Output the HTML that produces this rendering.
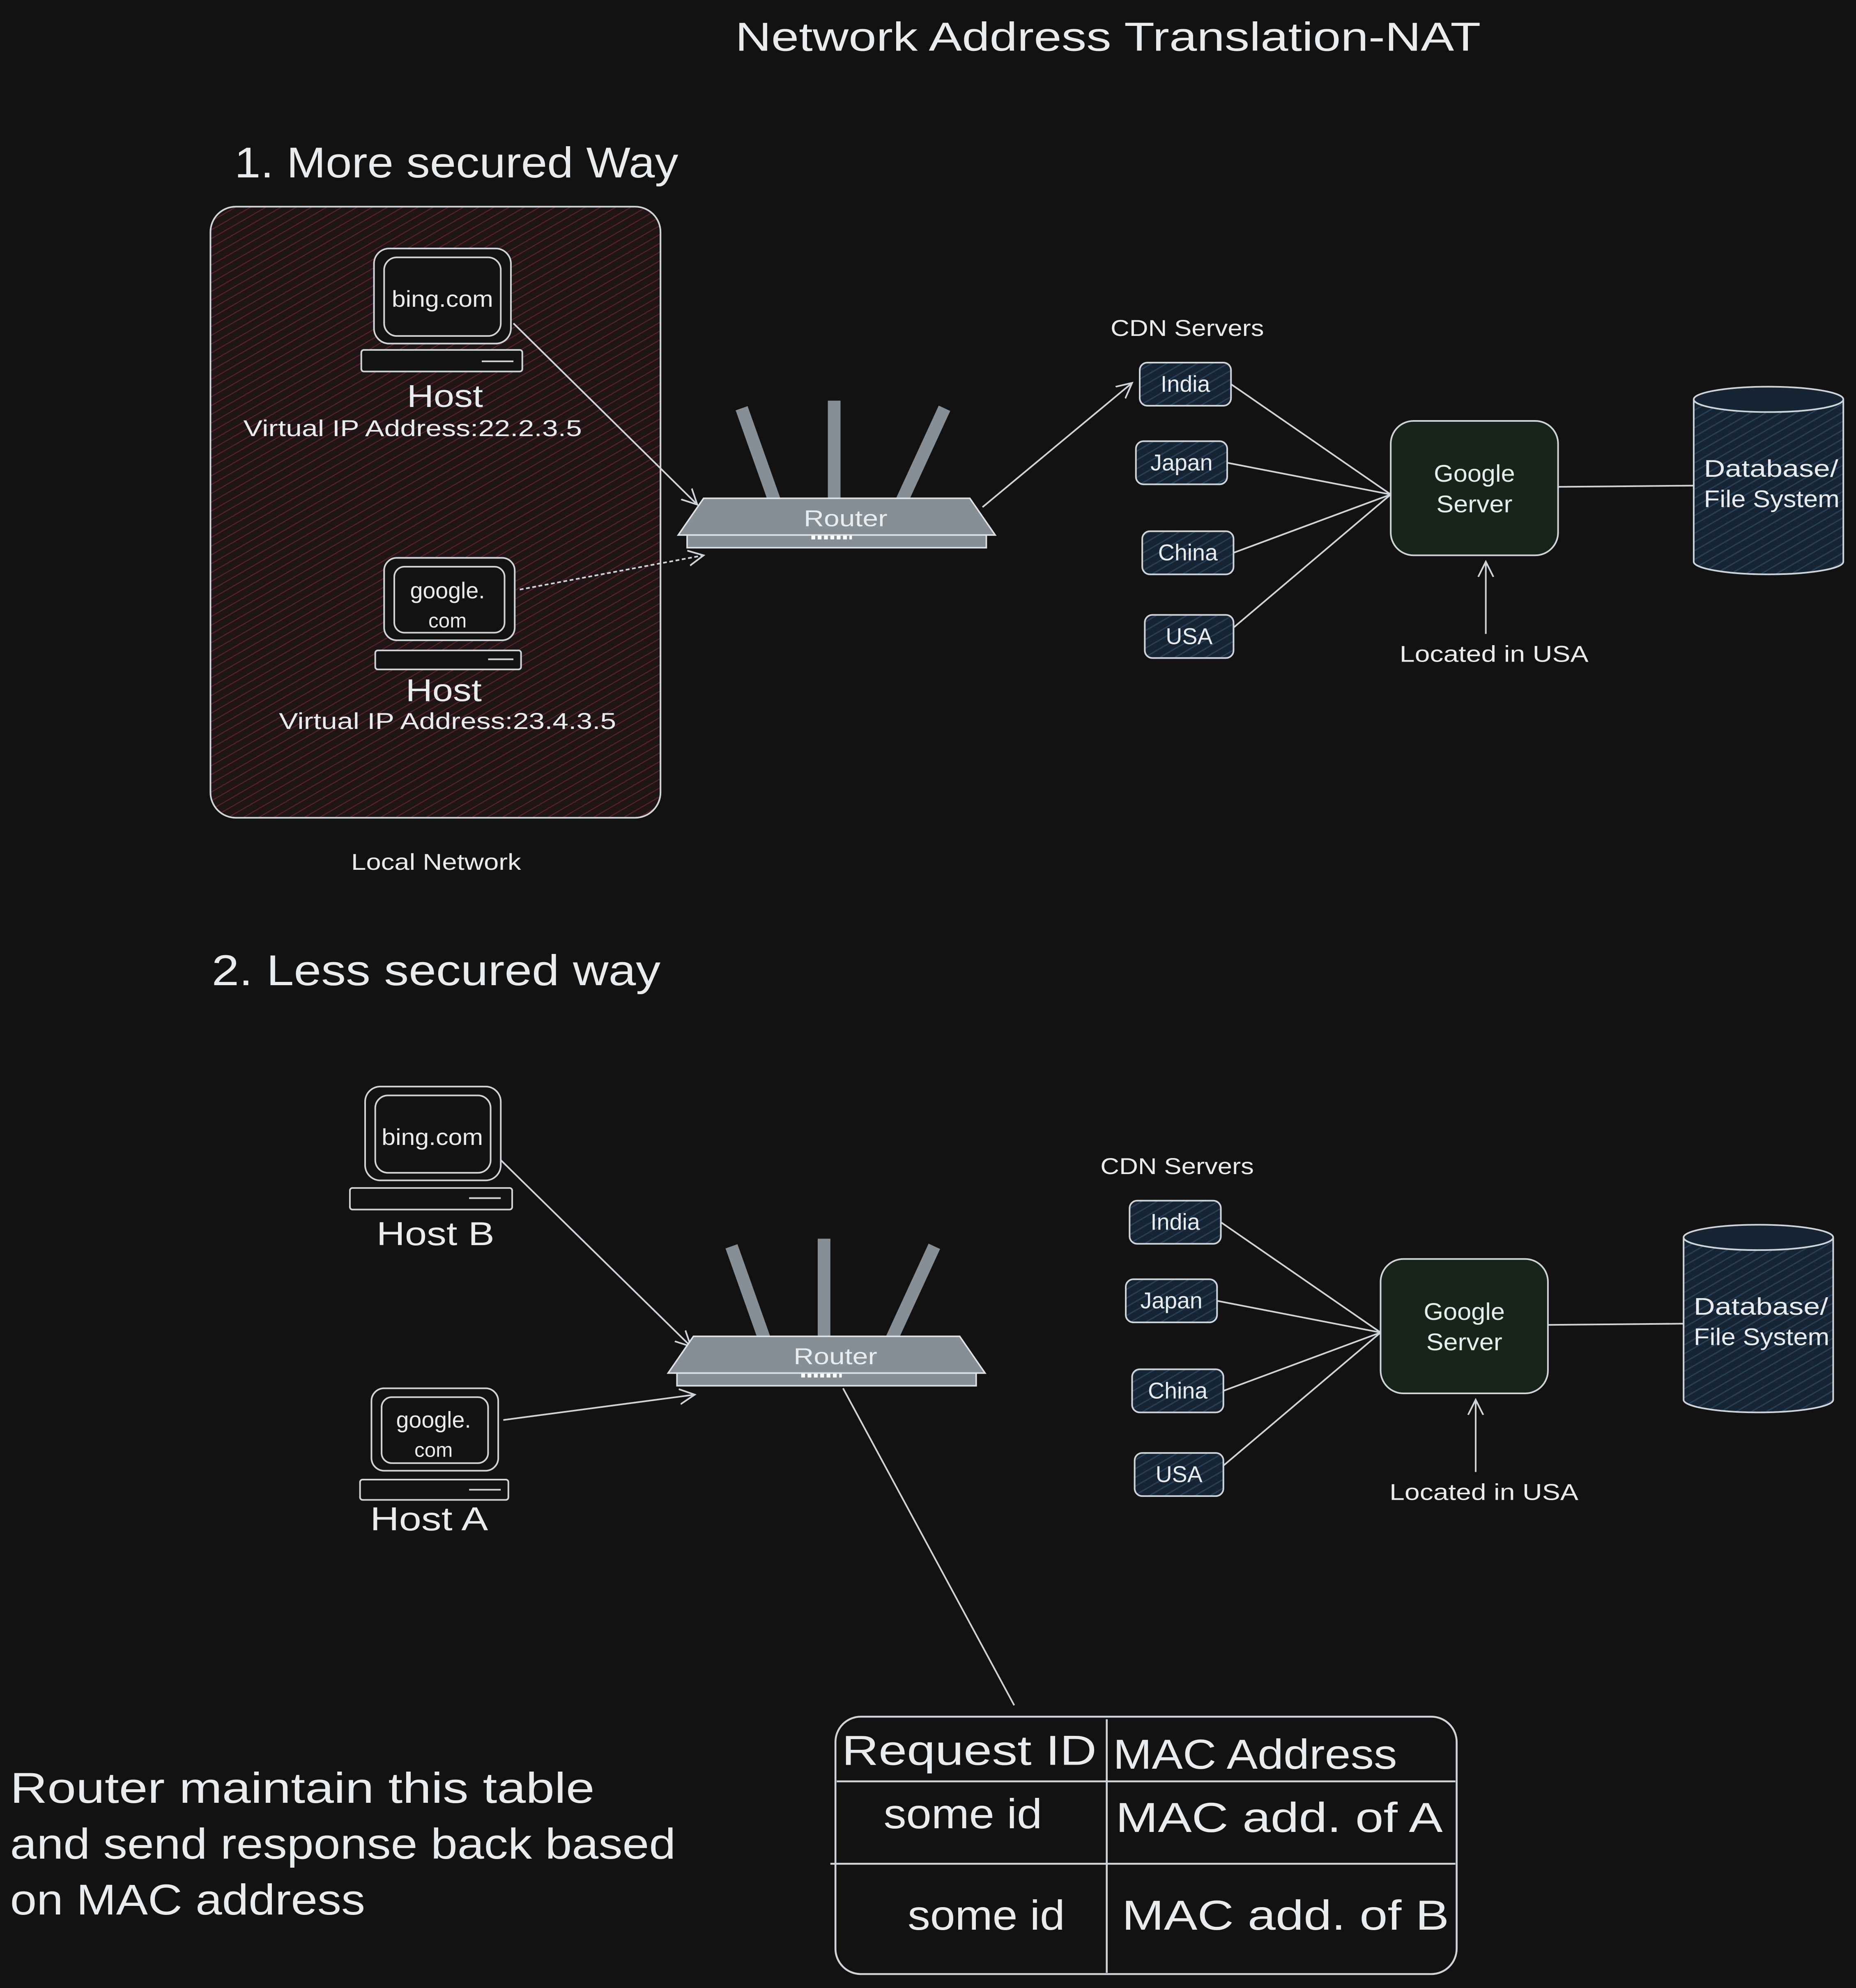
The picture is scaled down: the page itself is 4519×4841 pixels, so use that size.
<!DOCTYPE html>
<html><head><meta charset="utf-8"><style>
html,body{margin:0;padding:0;background:#121212;}
svg{display:block;}
text{font-family:"Liberation Sans",sans-serif;fill:#e9ecef;}
</style></head><body>
<svg width="4519" height="4841" viewBox="0 0 1464 1568" preserveAspectRatio="none" xmlns="http://www.w3.org/2000/svg">
<defs>
<marker id="ah" markerWidth="14" markerHeight="14" refX="12" refY="7" orient="auto" markerUnits="userSpaceOnUse">
<path d="M0,1 L12,7 L0,13" fill="none" stroke="#ced4da" stroke-width="1.3"/></marker>
<pattern id="hr" width="6" height="6" patternUnits="userSpaceOnUse" patternTransform="rotate(60)">
<rect width="6" height="6" fill="#1f1516"/><line x1="0" y1="0" x2="0" y2="6" stroke="#5a2428" stroke-width="1.5"/></pattern>
<pattern id="hb" width="6" height="6" patternUnits="userSpaceOnUse" patternTransform="rotate(60)">
<rect width="6" height="6" fill="#172433"/><line x1="0" y1="0" x2="0" y2="6" stroke="#24405a" stroke-width="2"/></pattern>
<g id="router">
<line x1="585" y1="322" x2="612" y2="398" stroke="#868e96" stroke-width="10"/>
<line x1="658" y1="316" x2="658" y2="398" stroke="#868e96" stroke-width="10"/>
<line x1="745" y1="322" x2="710" y2="398" stroke="#868e96" stroke-width="10"/>
<path d="M555,393 L765,393 L785,422 L535,422 Z" fill="#868e96" stroke="#dee2e6" stroke-width="1.2"/>
<rect x="542" y="422" width="236" height="10" fill="#868e96" stroke="#dee2e6" stroke-width="1.2"/>
<line x1="640" y1="424" x2="672" y2="424" stroke="#fff" stroke-width="3" stroke-dasharray="3 2"/>
<text x="634" y="415" font-size="18" textLength="66" lengthAdjust="spacingAndGlyphs">Router</text>
</g>
<g id="right" fill="none" stroke="#ced4da" stroke-width="1.3">
<text x="876" y="265" font-size="18" textLength="121" lengthAdjust="spacingAndGlyphs" stroke="none">CDN Servers</text>
<rect x="899" y="286" width="72" height="34" rx="6" fill="url(#hb)"/>
<rect x="896" y="348" width="72" height="34" rx="6" fill="url(#hb)"/>
<rect x="901" y="419" width="72" height="34" rx="6" fill="url(#hb)"/>
<rect x="903" y="485" width="70" height="34" rx="6" fill="url(#hb)"/>
<text x="935" y="309" font-size="18" text-anchor="middle" stroke="none">India</text>
<text x="932" y="371" font-size="18" text-anchor="middle" stroke="none">Japan</text>
<text x="937" y="442" font-size="18" text-anchor="middle" stroke="none">China</text>
<text x="938" y="508" font-size="18" text-anchor="middle" stroke="none">USA</text>
<line x1="971" y1="303" x2="1097" y2="390"/>
<line x1="968" y1="365" x2="1097" y2="390"/>
<line x1="973" y1="436" x2="1097" y2="390"/>
<line x1="973" y1="495" x2="1097" y2="390"/>
<rect x="1097" y="332" width="132" height="106" rx="18" fill="#16241a"/>
<text x="1131" y="380" font-size="19" textLength="64" lengthAdjust="spacingAndGlyphs" stroke="none">Google</text>
<text x="1133" y="404" font-size="19" textLength="60" lengthAdjust="spacingAndGlyphs" stroke="none">Server</text>
<line x1="1229" y1="384" x2="1337" y2="383"/>
<path d="M1336,315 L1336,443 A59,10 0 0 0 1454,443 L1454,315" fill="url(#hb)"/>
<ellipse cx="1395" cy="315" rx="59" ry="10" fill="#172433"/>
<text x="1344" y="376" font-size="19" textLength="106" lengthAdjust="spacingAndGlyphs" stroke="none">Database/</text>
<text x="1344" y="400" font-size="19" textLength="107" lengthAdjust="spacingAndGlyphs" stroke="none">File System</text>
<line x1="1172" y1="500" x2="1172" y2="443" marker-end="url(#ah)"/>
<text x="1104" y="522" font-size="18" textLength="149" lengthAdjust="spacingAndGlyphs" stroke="none">Located in USA</text>
</g>
</defs>

<rect width="1464" height="1568" fill="#121212"/>
<text x="580" y="40" font-size="32" textLength="588" lengthAdjust="spacingAndGlyphs">Network Address Translation-NAT</text>
<text x="185" y="140" font-size="34" textLength="350" lengthAdjust="spacingAndGlyphs">1. More secured Way</text>

<rect x="166" y="163" width="355" height="482" rx="20" fill="url(#hr)" stroke="#ced4da" stroke-width="1.3"/>
<g fill="none" stroke="#ced4da" stroke-width="1.3">
<rect x="295" y="196" width="108" height="75" rx="12" fill="#121212"/>
<rect x="303" y="203" width="92" height="62" rx="10"/>
<rect x="285" y="276" width="127" height="17" rx="2" fill="#121212"/>
<line x1="380" y1="285" x2="405" y2="285"/>
<rect x="303" y="440" width="103" height="65" rx="10" fill="#121212"/>
<rect x="311" y="447" width="87" height="52" rx="8"/>
<rect x="296" y="513" width="115" height="15" rx="2" fill="#121212"/>
<line x1="385" y1="520" x2="405" y2="520"/>
<line x1="405" y1="255" x2="550" y2="398" marker-end="url(#ah)"/>
<line x1="410" y1="465" x2="555" y2="438" marker-end="url(#ah)" stroke-dasharray="3 2"/>
<line x1="775" y1="400" x2="893" y2="302" marker-end="url(#ah)"/>
</g>
<text x="309" y="242" font-size="18" textLength="80" lengthAdjust="spacingAndGlyphs">bing.com</text>
<text x="353" y="472" font-size="18" text-anchor="middle">google.</text>
<text x="353" y="495" font-size="16" text-anchor="middle">com</text>
<text x="321" y="321" font-size="25" textLength="60" lengthAdjust="spacingAndGlyphs">Host</text>
<text x="192" y="344" font-size="18" textLength="267" lengthAdjust="spacingAndGlyphs">Virtual IP Address:22.2.3.5</text>
<text x="320" y="553" font-size="25" textLength="60" lengthAdjust="spacingAndGlyphs">Host</text>
<text x="220" y="575" font-size="18" textLength="266" lengthAdjust="spacingAndGlyphs">Virtual IP Address:23.4.3.5</text>
<text x="277" y="686" font-size="18" textLength="134" lengthAdjust="spacingAndGlyphs">Local Network</text>
<use href="#router"/>
<use href="#right"/>

<text x="167" y="777" font-size="34" textLength="354" lengthAdjust="spacingAndGlyphs">2. Less secured way</text>
<g fill="none" stroke="#ced4da" stroke-width="1.3">
<rect x="288" y="857" width="107" height="74" rx="12"/>
<rect x="296" y="864" width="91" height="61" rx="10"/>
<rect x="276" y="937" width="128" height="17" rx="2"/>
<line x1="370" y1="945" x2="395" y2="945"/>
<rect x="293" y="1095" width="100" height="65" rx="10"/>
<rect x="301" y="1102" width="84" height="52" rx="8"/>
<rect x="284" y="1167" width="117" height="16" rx="2"/>
<line x1="370" y1="1175" x2="395" y2="1175"/>
<line x1="395" y1="915" x2="545" y2="1062" marker-end="url(#ah)"/>
<line x1="397" y1="1120" x2="548" y2="1100" marker-end="url(#ah)"/>
<line x1="665" y1="1095" x2="800" y2="1345"/>
</g>
<text x="301" y="903" font-size="18" textLength="80" lengthAdjust="spacingAndGlyphs">bing.com</text>
<text x="342" y="1126" font-size="18" text-anchor="middle">google.</text>
<text x="342" y="1149" font-size="16" text-anchor="middle">com</text>
<text x="297" y="982" font-size="26" textLength="93" lengthAdjust="spacingAndGlyphs">Host B</text>
<text x="292" y="1207" font-size="26" textLength="93" lengthAdjust="spacingAndGlyphs">Host A</text>
<g transform="translate(-8,661)"><use href="#router"/><use href="#right"/></g>

<g fill="none" stroke="#ced4da" stroke-width="1.5">
<rect x="659" y="1354" width="490" height="203" rx="20"/>
<line x1="873" y1="1356" x2="873" y2="1556"/>
<line x1="660" y1="1405" x2="1148" y2="1405"/>
<line x1="655" y1="1470" x2="1148" y2="1470"/>
</g>
<text x="664" y="1392" font-size="33" textLength="201" lengthAdjust="spacingAndGlyphs">Request ID</text>
<text x="878" y="1395" font-size="33" textLength="224" lengthAdjust="spacingAndGlyphs">MAC Address</text>
<text x="697" y="1442" font-size="33" textLength="125" lengthAdjust="spacingAndGlyphs">some id</text>
<text x="880" y="1445" font-size="33" textLength="258" lengthAdjust="spacingAndGlyphs">MAC add. of A</text>
<text x="716" y="1522" font-size="33" textLength="124" lengthAdjust="spacingAndGlyphs">some id</text>
<text x="885" y="1522" font-size="33" textLength="258" lengthAdjust="spacingAndGlyphs">MAC add. of B</text>

<text x="8" y="1422" font-size="34" textLength="461" lengthAdjust="spacingAndGlyphs">Router maintain this table</text>
<text x="8" y="1466" font-size="34" textLength="525" lengthAdjust="spacingAndGlyphs">and send response back based</text>
<text x="8" y="1510" font-size="34" textLength="280" lengthAdjust="spacingAndGlyphs">on MAC address</text>
</svg>
</body></html>
